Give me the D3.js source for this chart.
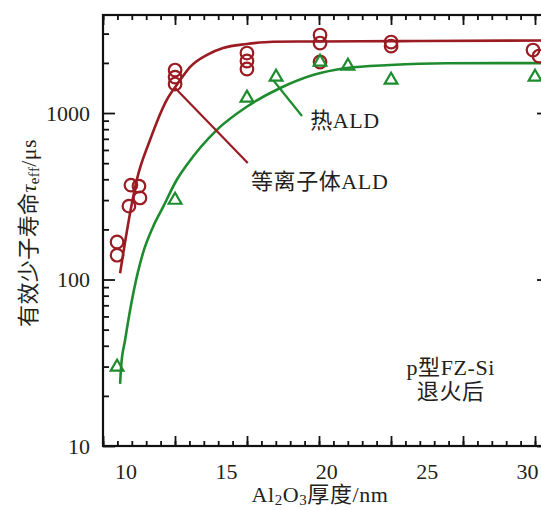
<!DOCTYPE html>
<html>
<head>
<meta charset="utf-8">
<script src="https://cdn.jsdelivr.net/npm/d3@7"></script>
<style>
  body { margin: 0; background: #fff; }
  svg { display: block; }
  text { font-family: "Liberation Serif", "Noto Sans CJK SC", serif; fill: #231f20; }
</style>
</head>
<body>
<svg></svg>
<script>
// plasma ALD (circles)
const plasmaX = [9.58, 9.58, 10.27, 10.67, 10.72, 10.17, 12.47, 12.47, 12.47, 16.05, 16.05, 16.05, 19.69, 19.69, 19.69, 23.23, 23.23, 30.3, 30.6]
const plasmaY = [168, 140, 369, 364, 309, 276, 1812, 1644, 1493, 2293, 2053, 1838, 2941, 2633, 2025, 2669, 2526, 2390, 2199]
// thermal ALD (triangles)
const thermalX = [9.58, 12.47, 16.05, 17.5, 19.69, 21.08, 23.23, 30.4]
const thermalY = [29.8, 300, 1231, 1645, 2025, 1916, 1578, 1645]
// fitted curves
const plasmaFitX = [9.73, 10.12, 10.56, 11.22, 12.05, 12.62, 13.21, 14.04, 14.86, 16.04, 17.35, 19.69, 23.67, 31.1]
const plasmaFitY = [109, 212, 396, 688, 1197, 1514, 1889, 2230, 2457, 2597, 2681, 2690, 2705, 2730]
const thermalFitX = [9.73, 9.78, 9.98, 10.42, 10.87, 11.37, 11.88, 12.55, 13.05, 14.54, 16.04, 17.71, 19.34, 21.02, 23.18, 26.0, 31.1]
const thermalFitY = [23.6, 29.8, 43.3, 86.5, 144, 207, 274, 396, 487, 790, 1091, 1413, 1691, 1863, 1942, 1989, 1995]
const xTickLabels = [10, 15, 20, 25, 30]
const yTickLabels = [10, 100, 1000]

const WIDTH = 541, HEIGHT = 510
const margin = { left: 103, top: 15, right: 549, bottom: 446 }
const W = margin.right - margin.left
const H = margin.bottom - margin.top
const RED = '#9a1b22', GREEN = '#1e8c2e'

const svg = d3.select('svg')
  .attr('width', WIDTH)
  .attr('height', HEIGHT)

const x = d3.scaleLinear().domain([8.879, 8.879 + W / 20.075]).range([0, W])
// tick marks of the frame sit on their own spacing
const xTick = d3.scaleLinear().domain([0, W / 14.4]).range([0, W])
const y = d3.scaleLog().domain([10, 3880]).range([H, 0])

const g = svg.append('g').attr('transform', `translate(${margin.left},${margin.top})`)

const tickMinor = d3.range(0, 31, 1)
const tickMajor = d3.range(0, 31, 5)
const yAll = y.ticks()
const yMinor = yAll.filter(v => !yTickLabels.includes(v))

function marks(axis, values, size) {
  return axis.tickValues(values).tickSize(size).tickFormat('')
}
function clean(sel) {
  sel.select('.domain').remove()
  sel.selectAll('line').attr('stroke', '#111').attr('stroke-width', 1.8)
}

g.append('g').attr('transform', `translate(0,${H})`).call(marks(d3.axisBottom(xTick), tickMinor, -5)).call(clean)
g.append('g').attr('transform', `translate(0,${H})`).call(marks(d3.axisBottom(xTick), tickMajor, -10)).call(clean)
g.append('g').call(marks(d3.axisTop(xTick), tickMinor, -5)).call(clean)
g.append('g').call(marks(d3.axisTop(xTick), tickMajor, -10)).call(clean)
g.append('g').call(marks(d3.axisLeft(y), yMinor, -6)).call(clean)
g.append('g').attr('transform', `translate(${W},0)`).call(marks(d3.axisRight(y), yMinor, -6)).call(clean)
g.append('g').attr('transform', `translate(${W},0)`).call(marks(d3.axisRight(y), yTickLabels, -12)).call(clean)

const axisY = d3.axisLeft(y).tickValues(yTickLabels).tickSize(-12).tickPadding(13).tickFormat(d3.format('d'))
g.append('g').call(axisY).call(clean)
  .selectAll('text').attr('font-size', 22).attr('fill', '#231f20')

const axisX = d3.axisBottom(x).tickValues(xTickLabels).tickSize(0).tickPadding(17)
g.append('g').attr('transform', `translate(0,${H})`).call(axisX).call(clean)
  .selectAll('text').attr('font-size', 22).attr('fill', '#231f20')

g.append('rect')
  .attr('width', W).attr('height', H)
  .attr('fill', 'none').attr('stroke', '#111').attr('stroke-width', 2.2)

const line = d3.line().x(d => x(d[0])).y(d => y(d[1])).curve(d3.curveMonotoneX)

g.append('path')
  .datum(d3.zip(thermalFitX, thermalFitY))
  .attr('d', line)
  .attr('fill', 'none').attr('stroke', GREEN).attr('stroke-width', 2.6)

g.append('path')
  .datum(d3.zip(plasmaFitX, plasmaFitY))
  .attr('d', line)
  .attr('fill', 'none').attr('stroke', RED).attr('stroke-width', 2.6)

g.selectAll('circle.pt')
  .data(d3.zip(plasmaX, plasmaY))
  .enter()
  .append('circle')
  .attr('class', 'pt')
  .attr('cx', d => x(d[0]))
  .attr('cy', d => y(d[1]))
  .attr('r', 6.3)
  .attr('fill', 'none').attr('stroke', RED).attr('stroke-width', 2.2)

const tri = d3.symbol().type(d3.symbolTriangle).size(70)
g.selectAll('path.tri')
  .data(d3.zip(thermalX, thermalY))
  .enter()
  .append('path')
  .attr('class', 'tri')
  .attr('d', tri)
  .attr('transform', d => `translate(${x(d[0])},${y(d[1])})`)
  .attr('fill', 'none').attr('stroke', GREEN).attr('stroke-width', 2.2)

// leader lines and labels
g.append('line')
  .attr('x1', x(12.47)).attr('y1', y(1413))
  .attr('x2', x(16.09)).attr('y2', y(501))
  .attr('stroke', RED).attr('stroke-width', 2.2)
g.append('line')
  .attr('x1', x(17.35)).attr('y1', y(1578))
  .attr('x2', x(18.79)).attr('y2', y(959))
  .attr('stroke', GREEN).attr('stroke-width', 2.2)

const lab = { 'font-size': 22, 'letter-spacing': 0.6 }
function label(tx, ty, str, anchor) {
  return g.append('text').attr('x', x(tx)).attr('y', y(ty))
    .attr('font-size', lab['font-size']).attr('letter-spacing', lab['letter-spacing'])
    .attr('text-anchor', anchor || 'start').text(str)
}
label(16.25, 350, '等离子体ALD')
label(19.2, 813, '热ALD')
label(26.2, 26.7, 'p型FZ-Si', 'middle')
label(26.2, 19.2, '退火后', 'middle')

// axis titles
const xt = svg.append('text')
  .attr('x', 320).attr('y', 502)
  .attr('text-anchor', 'middle').attr('font-size', 22).attr('letter-spacing', 0.6)
xt.append('tspan').text('Al')
xt.append('tspan').attr('font-size', 15).attr('dy', 3).text('2')
xt.append('tspan').attr('dy', -3).text('O')
xt.append('tspan').attr('font-size', 15).attr('dy', 3).text('3')
xt.append('tspan').attr('dy', -3).text('厚度/nm')

const yt = svg.append('text')
  .attr('transform', 'translate(36,233) rotate(-90)')
  .attr('text-anchor', 'middle').attr('font-size', 22).attr('letter-spacing', 0.4)
yt.append('tspan').text('有效少子寿命')
yt.append('tspan').attr('font-style', 'italic').text('τ')
yt.append('tspan').attr('font-size', 15).attr('dy', 3).text('eff')
yt.append('tspan').attr('dy', -3).text('/μs')
</script>
</body>
</html>
